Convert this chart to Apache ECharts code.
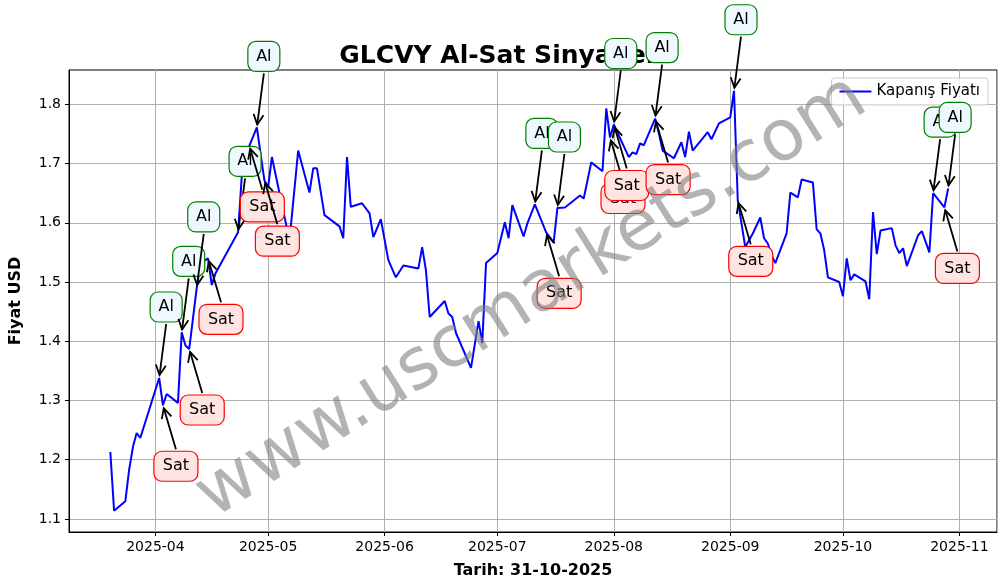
<!DOCTYPE html>
<html>
<head>
<meta charset="utf-8">
<script src="https://cdn.jsdelivr.net/npm/echarts@6/dist/echarts.min.js"></script>
<style>html,body{margin:0;padding:0;background:#fff}#main{width:1006px;height:587px}</style>
</head>
<body>
<div id="main"></div>
<script>
// kapanış fiyatı
var dates = ['2025-03-20','2025-03-21','2025-03-24','2025-03-25','2025-03-26','2025-03-27','2025-03-28',
  '2025-04-02','2025-04-03','2025-04-04','2025-04-07','2025-04-08','2025-04-09','2025-04-10','2025-04-12','2025-04-13',
  '2025-04-15','2025-04-16','2025-04-17','2025-04-23','2025-04-24','2025-04-26','2025-04-28','2025-04-30','2025-05-01',
  '2025-05-02','2025-05-05','2025-05-06','2025-05-07','2025-05-09','2025-05-12','2025-05-13','2025-05-14','2025-05-16',
  '2025-05-20','2025-05-21','2025-05-22','2025-05-23','2025-05-26','2025-05-28','2025-05-29','2025-05-31','2025-06-02',
  '2025-06-04','2025-06-06','2025-06-10','2025-06-11','2025-06-12','2025-06-13','2025-06-17','2025-06-18','2025-06-19',
  '2025-06-20','2025-06-24','2025-06-26','2025-06-27','2025-06-28','2025-07-01','2025-07-03','2025-07-04','2025-07-05',
  '2025-07-08','2025-07-09','2025-07-11','2025-07-14','2025-07-16','2025-07-17','2025-07-19','2025-07-23','2025-07-24',
  '2025-07-26','2025-07-29','2025-07-30','2025-07-31','2025-08-01','2025-08-05','2025-08-06','2025-08-07','2025-08-08',
  '2025-08-09','2025-08-12','2025-08-13','2025-08-14','2025-08-17','2025-08-19','2025-08-20','2025-08-21','2025-08-22',
  '2025-08-26','2025-08-27','2025-08-29','2025-09-01','2025-09-02','2025-09-03','2025-09-05','2025-09-07','2025-09-09',
  '2025-09-10','2025-09-11','2025-09-12','2025-09-13','2025-09-16','2025-09-17','2025-09-19','2025-09-20','2025-09-23',
  '2025-09-24','2025-09-25','2025-09-26','2025-09-27','2025-09-30','2025-10-01','2025-10-02','2025-10-03','2025-10-04',
  '2025-10-07','2025-10-08','2025-10-09','2025-10-10','2025-10-11','2025-10-14','2025-10-15','2025-10-16','2025-10-17',
  '2025-10-18','2025-10-21','2025-10-22','2025-10-24','2025-10-25','2025-10-28','2025-10-29'];
var prices = [1.213,1.114,1.130,1.183,1.221,1.245,1.237,
  1.338,1.292,1.311,1.296,1.415,1.393,1.387,1.490,1.532,
  1.540,1.495,1.515,1.584,1.680,1.730,1.761,1.672,1.660,
  1.711,1.621,1.591,1.591,1.722,1.651,1.692,1.692,1.613,
  1.594,1.574,1.711,1.627,1.633,1.616,1.576,1.606,1.537,
  1.508,1.528,1.523,1.559,1.520,1.441,1.468,1.447,1.441,
  1.414,1.355,1.434,1.397,1.532,1.549,1.601,1.574,1.630,
  1.577,1.599,1.631,1.584,1.567,1.625,1.626,1.646,1.641,
  1.702,1.687,1.793,1.744,1.766,1.711,1.719,1.716,1.734,
  1.731,1.776,1.751,1.722,1.709,1.736,1.711,1.754,1.722,
  1.753,1.741,1.768,1.778,1.823,1.638,1.559,1.582,1.609,
  1.574,1.565,1.545,1.532,1.582,1.651,1.643,1.673,1.668,
  1.589,1.582,1.554,1.508,1.500,1.476,1.540,1.503,1.513,
  1.501,1.471,1.618,1.547,1.587,1.591,1.562,1.549,1.557,
  1.527,1.579,1.586,1.550,1.650,1.626,1.658];

// sinyaller
var alDates = ['2025-04-02','2025-04-08','2025-04-12','2025-04-23','2025-04-28','2025-07-11','2025-07-17',
  '2025-08-01','2025-08-12','2025-09-02','2025-10-25','2025-10-29'];
var satDates = ['2025-04-03','2025-04-10','2025-04-15','2025-04-26','2025-04-30','2025-07-14','2025-07-31',
  '2025-08-01','2025-08-12','2025-09-03','2025-10-28'];

var yTicks = [1.1, 1.2, 1.3, 1.4, 1.5, 1.6, 1.7, 1.8];

function priceAt(d) { return prices[dates.indexOf(d)]; }

var series = dates.map(function (d, i) { return [d, prices[i]]; });
var signals = alDates.map(function (d) { return [d, priceAt(d), 'Al']; })
  .concat(satDates.map(function (d) { return [d, priceAt(d), 'Sat']; }));

var font = 'DejaVu Sans';
var DAY = 86400000;
var chart = echarts.init(document.getElementById('main'));

function renderSignal(params, api) {
  var p = api.coord([api.value(0), api.value(1)]);
  var isAl = api.value(2) === 'Al';
  var text = isAl ? 'Al' : 'Sat';
  var lx = p[0] + (isAl ? 7 : 13), ly = p[1] + (isAl ? -71 : 61);
  var w = isAl ? 32 : 44, h = 30;
  // ok kutudan noktaya
  var sx = lx, sy = isAl ? ly + h / 2 + 2 : ly - h / 2 - 2;
  var dx = p[0] - sx, dy = p[1] - sy, len = Math.sqrt(dx * dx + dy * dy);
  var ux = dx / len, uy = dy / len;
  var ex = p[0] - ux * 3, ey = p[1] - uy * 3;
  var ah = 10, aw = 5;
  var bx = ex - ux * ah, by = ey - uy * ah;
  return {
    type: 'group',
    children: [
      { type: 'line', shape: { x1: sx, y1: sy, x2: ex, y2: ey }, style: { stroke: '#000', lineWidth: 1.8 } },
      { type: 'polyline', shape: { points: [[bx - uy * aw, by + ux * aw], [ex, ey], [bx + uy * aw, by - ux * aw]] },
        style: { stroke: '#000', lineWidth: 1.8, fill: null } },
      { type: 'rect', shape: { x: lx - w / 2, y: ly - h / 2, width: w, height: h, r: 8 },
        style: { fill: isAl ? '#f0f8ff' : '#ffe4e1', stroke: isAl ? 'green' : 'red', lineWidth: 1.2 } },
      { type: 'text', x: lx, y: ly, style: { text: text, fontFamily: font, fontSize: 16, fill: '#000', align: 'center', verticalAlign: 'middle' } }
    ]
  };
}

chart.setOption({
  animation: false,
  title: {
    text: 'GLCVY Al-Sat Sinyalleri', left: 'center', top: 39,
    textStyle: { fontFamily: font, fontSize: 25, fontWeight: 'bold', color: '#000' }
  },
  legend: {
    right: 18, top: 78, padding: [6, 8], borderColor: '#ccc', borderWidth: 1, borderRadius: 3, backgroundColor: 'rgba(255,255,255,0.8)',
    itemWidth: 32, itemHeight: 2, icon: 'rect',
    textStyle: { fontFamily: font, fontSize: 15, color: '#000' },
    data: ['Kapanış Fiyatı']
  },
  grid: { left: 68, right: 9, top: 70, bottom: 55, show: true, borderColor: '#000', borderWidth: 1 },
  xAxis: {
    type: 'time', min: '2025-03-09', max: '2025-11-11',
    minInterval: 28 * DAY, maxInterval: 31 * DAY,
    name: 'Tarih: 31-10-2025', nameLocation: 'middle', nameGap: 31,
    nameTextStyle: { fontFamily: font, fontSize: 16, fontWeight: 'bold', color: '#000' },
    axisLine: { lineStyle: { color: '#000' } },
    axisTick: { show: true, length: 4, lineStyle: { color: '#000' } },
    axisLabel: {
      fontFamily: font, fontSize: 14, color: '#000', margin: 8, hideOverlap: false,
      formatter: function (v) { var t = new Date(v); return t.getFullYear() + '-' + String(t.getMonth() + 1).padStart(2, '0'); }
    },
    splitLine: { show: true, lineStyle: { color: '#b0b0b0', width: 1 } }
  },
  yAxis: {
    type: 'value', min: 1.078, max: 1.858,
    name: 'Fiyat USD', nameLocation: 'middle', nameGap: 45,
    nameTextStyle: { fontFamily: font, fontSize: 16, fontWeight: 'bold', color: '#000' },
    axisLine: { show: true, lineStyle: { color: '#000' } },
    axisTick: { show: true, length: 4, lineStyle: { color: '#000' }, customValues: yTicks },
    axisLabel: { fontFamily: font, fontSize: 14, color: '#000', customValues: yTicks, formatter: function (v) { return v.toFixed(1); } },
    splitLine: { show: true, lineStyle: { color: '#b0b0b0', width: 1 } }
  },
  graphic: [{
    type: 'text', x: 532, y: 298, rotation: Math.PI / 180 * 32,
    style: { text: 'www.uscmarkets.com', fontFamily: font, fontSize: 71, fill: 'rgba(128,128,128,0.6)', align: 'center', verticalAlign: 'middle' },
    z: 100
  }],
  series: [
    { name: 'Kapanış Fiyatı', type: 'line', data: series, showSymbol: false, symbol: 'none',
      lineStyle: { color: 'blue', width: 2 }, itemStyle: { color: 'blue' } },
    { name: 'signals', type: 'custom', data: signals, renderItem: renderSignal, z: 10, clip: false }
  ]
});
</script>
</body>
</html>
